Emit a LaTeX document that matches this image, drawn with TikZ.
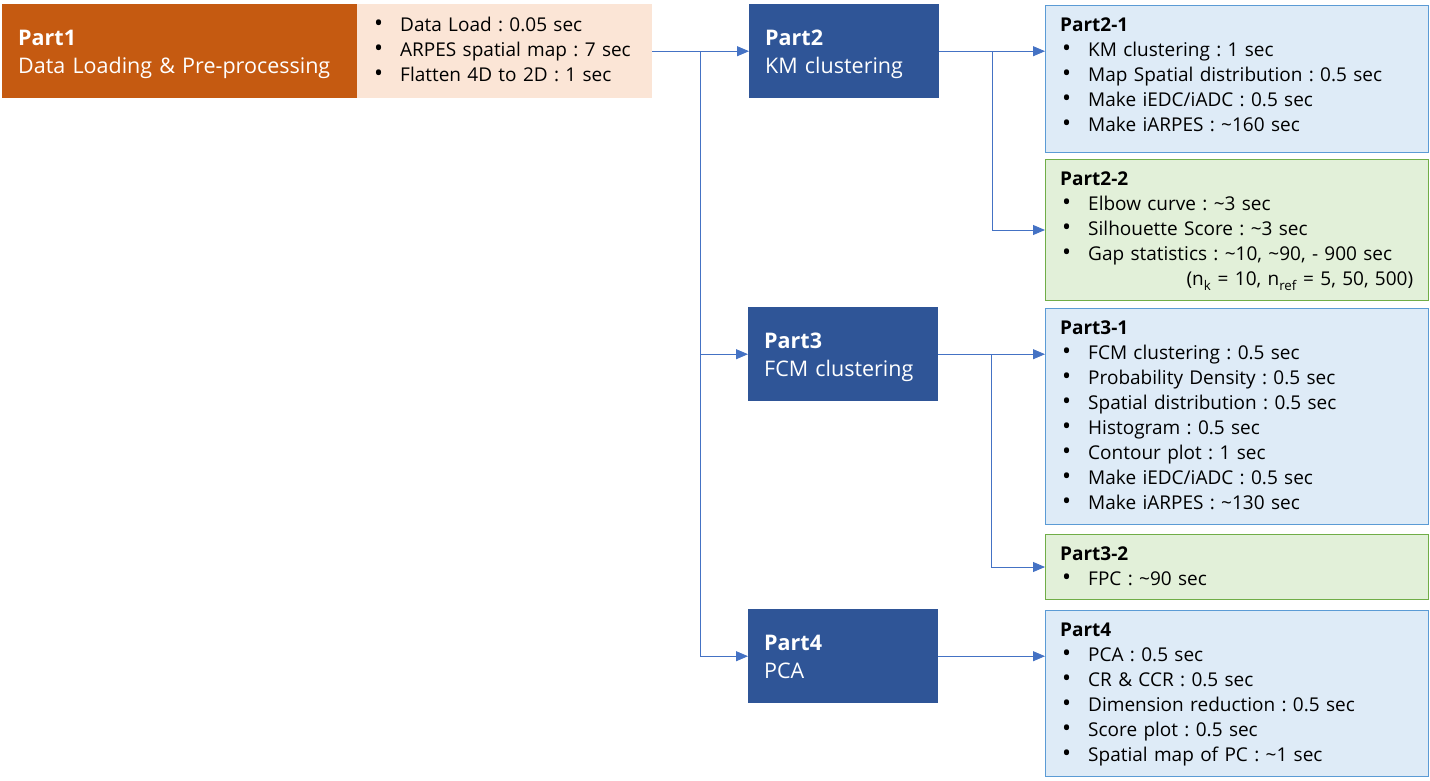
\documentclass[tikz,border=0pt]{standalone}
\usepackage{fontspec}
\setmainfont{Open Sans}
\usetikzlibrary{arrows.meta,calc}
\definecolor{partorange}{HTML}{C55A11}
\definecolor{partpeach}{HTML}{FBE5D6}
\definecolor{partblue}{HTML}{2F5597}
\definecolor{paleblue}{HTML}{DEEBF7}
\definecolor{edgeblue}{HTML}{5B9BD5}
\definecolor{palegreen}{HTML}{E2F0D9}
\definecolor{edgegreen}{HTML}{70AD47}
\definecolor{flowblue}{HTML}{4472C4}
\frenchspacing
\newcommand\itm[1]{\makebox[28pt][l]{\hspace{2pt}{\fontsize{24}{25}\selectfont\textbullet}}#1}
\newcommand\parttop{\rule{0pt}{25.5pt}}
\begin{document}
\begin{tikzpicture}
  [x=1pt,y=-1pt,
   partbox/.style={anchor=north west, fill=partblue, text=white,
     minimum height=94pt, text width=158pt, inner xsep=16pt, inner ysep=0pt,
     align=left, font=\fontsize{21.5}{28}\selectfont},
   listbox/.style={anchor=north west, line width=1pt, inner sep=0pt,
     minimum width=383pt},
   bluelist/.style={listbox, fill=paleblue, draw=edgeblue},
   greenlist/.style={listbox, fill=palegreen, draw=edgegreen},
   listtext/.style={anchor=north west, inner sep=0pt, text width=353pt,
     align=left, font=\fontsize{19}{25}\selectfont},
   flow/.style={draw=flowblue, line width=0.9pt,
     -{Triangle[length=12pt,width=10pt]}}]
  \useasboundingbox (0,0) rectangle (1430,780);

  % part 1
  \node[partbox, fill=partorange, text width=323pt] (p1) at (2,4)
    {\parttop\textbf{Part1}\\Data Loading \& Pre-processing\strut};
  \node[anchor=north west, fill=partpeach, inner sep=0pt,
    minimum width=295pt, minimum height=94pt] (p1l) at (357,4) {};
  \node[listtext, text width=270pt] (p1t) at ($(p1l.north west)+(15,13)$)
    {\itm{Data Load : 0.05 sec}\\
     \itm{ARPES spatial map : 7 sec}\\
     \itm{Flatten 4D to 2D : 1 sec}};

  % middle column
  \node[partbox] (p2) at (749,4) {\parttop\textbf{Part2}\\KM clustering\strut};
  \node[partbox] (p3) at (748,307) {\parttop\textbf{Part3}\\FCM clustering\strut};
  \node[partbox] (p4) at (748,609) {\parttop\textbf{Part4}\\PCA\strut};

  % right column
  \node[bluelist, minimum height=147pt] (p21) at (1045,5) {};
  \node[listtext] (p21t) at ($(p21.north west)+(15,13)$)
    {\textbf{Part2-1}\\
     \itm{KM clustering : 1 sec}\\
     \itm{Map Spatial distribution : 0.5 sec}\\
     \itm{Make iEDC/iADC : 0.5 sec}\\
     \itm{Make iARPES : \textasciitilde160 sec}};

  \node[greenlist, minimum height=141pt] (p22) at (1045,159) {};
  \node[listtext] (p22t) at ($(p22.north west)+(15,13)$)
    {\textbf{Part2-2}\\
     \itm{Elbow curve : \textasciitilde3 sec}\\
     \itm{Silhouette Score : \textasciitilde3 sec}\\
     \itm{Gap statistics : \textasciitilde10, \textasciitilde90, - 900 sec}\\
     \hfill(n\textsubscript{k} = 10, n\textsubscript{ref} = 5, 50, 500)};

  \node[bluelist, minimum height=216pt] (p31) at (1045,308) {};
  \node[listtext] (p31t) at ($(p31.north west)+(15,13)$)
    {\textbf{Part3-1}\\
     \itm{FCM clustering : 0.5 sec}\\
     \itm{Probability Density : 0.5 sec}\\
     \itm{Spatial distribution : 0.5 sec}\\
     \itm{Histogram : 0.5 sec}\\
     \itm{Contour plot : 1 sec}\\
     \itm{Make iEDC/iADC : 0.5 sec}\\
     \itm{Make iARPES : \textasciitilde130 sec}};

  \node[greenlist, minimum height=65pt] (p32) at (1045,534) {};
  \node[listtext] (p32t) at ($(p32.north west)+(15,13)$)
    {\textbf{Part3-2}\\
     \itm{FPC : \textasciitilde90 sec}};

  \node[bluelist, minimum height=166pt] (p4l) at (1045,610) {};
  \node[listtext] (p4t) at ($(p4l.north west)+(15,13)$)
    {\textbf{Part4}\\
     \itm{PCA : 0.5 sec}\\
     \itm{CR \& CCR : 0.5 sec}\\
     \itm{Dimension reduction : 0.5 sec}\\
     \itm{Score plot : 0.5 sec}\\
     \itm{Spatial map of PC : \textasciitilde1 sec}};

  % connectors
  \coordinate (fork1) at ($(p1l.east)!0.5!(p2.west)$);
  \draw[flow] (p1l.east) -- (p2.west);
  \draw[flow] (fork1) |- (p3.west);
  \draw[flow] (fork1) |- (p4.west);

  \coordinate (fork2) at ($(p2.east)!0.5!(p2.east -| p21.west)$);
  \draw[flow] (p2.east) -- (p2.east -| p21.west);
  \draw[flow] (fork2) |- (p22.west);

  \coordinate (fork3) at ($(p3.east)!0.5!(p3.east -| p31.west)$);
  \draw[flow] (p3.east) -- (p3.east -| p31.west);
  \draw[flow] (fork3) |- (p32.west);

  \draw[flow] (p4.east) -- (p4.east -| p4l.west);
\end{tikzpicture}
\end{document}
